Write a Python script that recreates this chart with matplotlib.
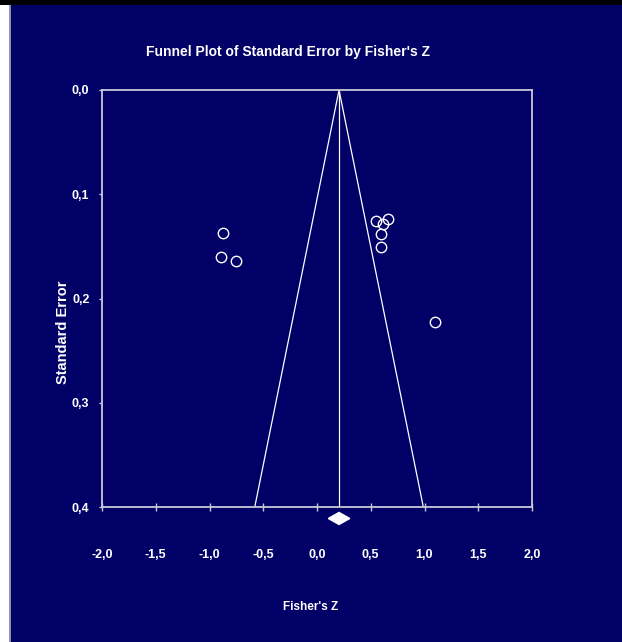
"""Funnel plot of standard error by Fisher's Z."""
import matplotlib
matplotlib.use("Agg")
import matplotlib.pyplot as plt
from matplotlib.patches import Polygon, Rectangle
from matplotlib.ticker import FuncFormatter

NAVY = "#000066"
SANS = ["Liberation Sans", "DejaVu Sans"]

# study effects (Fisher's Z) and their standard errors
study_z = [-0.874, -0.893, -0.753, 0.549, 0.660, 0.617, 0.595, 0.593, 1.098]
study_se = [0.137, 0.160, 0.164, 0.126, 0.124, 0.129, 0.138, 0.151, 0.223]

summary_z = 0.205
summary_ci_half = 0.10
max_se = 0.4

x_ticks = [-2.0, -1.5, -1.0, -0.5, 0.0, 0.5, 1.0, 1.5, 2.0]
y_ticks = [0.0, 0.1, 0.2, 0.3, 0.4]

fig = plt.figure(figsize=(6.22, 6.42), dpi=100, facecolor=NAVY)

# page decorations: white strip on the left, black rule on top
fig.add_artist(Rectangle((0, 0), 9 / 622, 1, transform=fig.transFigure,
                         facecolor="white", edgecolor="none", zorder=5))
fig.add_artist(Rectangle((9 / 622, 0), 2 / 622, 1, transform=fig.transFigure,
                         facecolor="#9090b0", edgecolor="none", zorder=5))
fig.add_artist(Rectangle((0, 1 - 5 / 642), 1, 5 / 642, transform=fig.transFigure,
                         facecolor="black", edgecolor="none", zorder=6))

ax = fig.add_axes([102 / 622, 1 - 507 / 642, 430 / 622, 417 / 642], facecolor=NAVY)

# funnel (95% pseudo confidence limits)
half = 1.96 * max_se
ax.plot([summary_z - half, summary_z, summary_z + half], [max_se, 0, max_se],
        color="white", lw=0.9)
ax.plot([summary_z, summary_z], [0, max_se], color="white", lw=0.9)

ax.plot(study_z, study_se, linestyle="none", marker="o", markersize=7.5,
        markerfacecolor="none", markeredgecolor="white", markeredgewidth=1.0)

# summary diamond below the axis
dy = 0.0058
yc = max_se + 0.011
diamond = Polygon([(summary_z - summary_ci_half, yc), (summary_z, yc - dy),
                   (summary_z + summary_ci_half, yc), (summary_z, yc + dy)],
                  closed=True, facecolor="white", edgecolor="white", clip_on=False)
ax.add_patch(diamond)

ax.set_xlim(-2.0, 2.0)
ax.set_ylim(max_se, 0.0)
ax.set_xticks(x_ticks)
ax.set_yticks(y_ticks)
comma = FuncFormatter(lambda v, _: f"{v:.1f}".replace(".", ","))
ax.xaxis.set_major_formatter(comma)
ax.yaxis.set_major_formatter(comma)

for spine in ax.spines.values():
    spine.set_color("#c8c8d8")
    spine.set_linewidth(1.3)

ax.tick_params(axis="x", direction="inout", length=6, width=1, color="#c8c8d8",
               pad=27, labelcolor="white")
ax.tick_params(axis="y", direction="out", length=2, width=1, color="#c8c8d8",
               pad=7, labelcolor="white")
for label in ax.get_xticklabels() + ax.get_yticklabels():
    label.set_fontfamily(SANS)
    label.set_fontweight("bold")
    label.set_fontsize(9)

fig.text(288 / 622, 1 - 52 / 642, "Funnel Plot of Standard Error by Fisher's Z",
         ha="center", va="center", color="white", fontsize=10, fontweight="bold",
         family=SANS)
fig.text(311 / 622, 1 - 607 / 642, "Fisher's Z", ha="center", va="center",
         color="white", fontsize=8.5, fontweight="bold", family=SANS)
fig.text(63 / 622, 1 - 332 / 642, "Standard Error", ha="center", va="center",
         rotation=90, color="white", fontsize=10.5, fontweight="bold", family=SANS)

fig.savefig("out.png", dpi=100, facecolor=NAVY)
plt.close(fig)
